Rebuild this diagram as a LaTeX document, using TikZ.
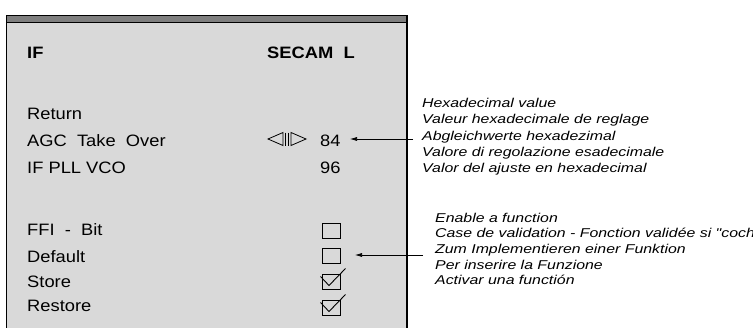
\documentclass[tikz,border=0pt]{standalone}
\usepackage{fontspec}
\setmainfont{Liberation Sans}
\newfontfamily\panelfont[FakeStretch=1.11]{Liberation Sans}
\newfontfamily\notefont[FakeStretch=1.24]{Liberation Sans}
\usetikzlibrary{arrows.meta}
\definecolor{panelgrey}{HTML}{D9D9D9}
\definecolor{bargrey}{HTML}{7F7F7F}
\tikzset{
  menutext/.style={anchor=base west, inner sep=0pt, font=\panelfont\fontsize{16.5}{18}\selectfont},
  menubold/.style={menutext, font=\panelfont\fontsize{16.5}{18}\selectfont\bfseries},
  note/.style={anchor=base west, inner sep=0pt, font=\notefont\itshape\fontsize{12.8}{14}\selectfont},
  chkbox/.style={draw, line width=0.9pt, minimum width=18pt, minimum height=15pt, inner sep=0pt},
  pointer/.style={line width=0.6pt, -{Latex[length=7pt,width=4pt]}},
  tick/.style={line width=0.9pt},
}
\begin{document}
\begin{tikzpicture}[x=1pt,y=-1pt]
\useasboundingbox (0,0) rectangle (753,327);
\clip (0,0) rectangle (753,327);
% panel
\fill[panelgrey] (6.5,15.5) rectangle (407,340);
\fill[bargrey] (6.5,15.5) rectangle (407,22);
\draw[line width=1.2pt] (6.5,340) -- (6.5,15.5) -- (407,15.5) -- (407,340);
\draw[line width=1.0pt] (6.5,22) -- (407,22);
% menu texts
\node[menubold] (tif) at (27,58) {IF};
\node[menubold] (tsecam) at (267,58) {SECAM\ \ L};
\node[menutext] (tret) at (27,119.5) {Return};
\node[menutext] (tagc) at (27,146) {AGC\ \ Take\ \ Over};
\node[menutext] (tpll) at (27,173.5) {IF PLL VCO};
\node[menutext] (tffi) at (27,235.5) {FFI\ \ -\ \ Bit};
\node[menutext] (tdef) at (27,262) {Default};
\node[menutext] (tsto) at (27,287) {Store};
\node[menutext] (tres) at (27,311) {Restore};
\node[menutext] (v84) at (320,146) {84};
\node[menutext] (v96) at (320,173.5) {96};
% adjust symbol
\draw[line width=0.8pt] (268,139) -- (283,132.5) -- (283,145.5) -- cycle;
\draw[line width=0.8pt] (285.5,132.5) -- (285.5,145.5) (288.5,132.5) -- (288.5,145.5);
\draw[line width=0.8pt] (291,132.5) -- (306,139) -- (291,145.5) -- cycle;
% checkboxes
\node[chkbox] (b1) at (331,230.5) {};
\node[chkbox] (b2) at (331,255.5) {};
\node[chkbox] (b3) at (331,282) {};
\node[chkbox] (b4) at (331,308) {};
\draw[tick] (320.5,276.5) -- (329,285.5) -- (345.5,268.5);
\draw[tick] (320.5,302.5) -- (329,311.5) -- (345.5,294.5);
% notes
\node[note] (n1) at (422,107) {Hexadecimal value};
\node[note] (n2) at (422,123.5) {Valeur hexadecimale de reglage};
\node[note] (n3) at (422,140) {Abgleichwerte hexadezimal};
\node[note] (n4) at (422,156.5) {Valore di regolazione esadecimale};
\node[note] (n5) at (422,172.5) {Valor del ajuste en hexadecimal};
\node[note] (m1) at (435,222) {Enable a function};
\node[note] (m2) at (435,237.5) {Case de validation - Fonction validée si "coch};
\node[note] (m3) at (435,253.5) {Zum Implementieren einer Funktion};
\node[note] (m4) at (435,269.5) {Per inserire la Funzione};
\node[note] (m5) at (435,284.5) {Activar una functión};
% pointers
\coordinate (p1s) at (413,139);
\coordinate (p1e) at (350,139);
\coordinate (p2s) at (423,255);
\coordinate (p2e) at (355,255);
\draw[pointer] (p1s) -- (p1e);
\draw[pointer] (p2s) -- (p2e);
\end{tikzpicture}
\end{document}
